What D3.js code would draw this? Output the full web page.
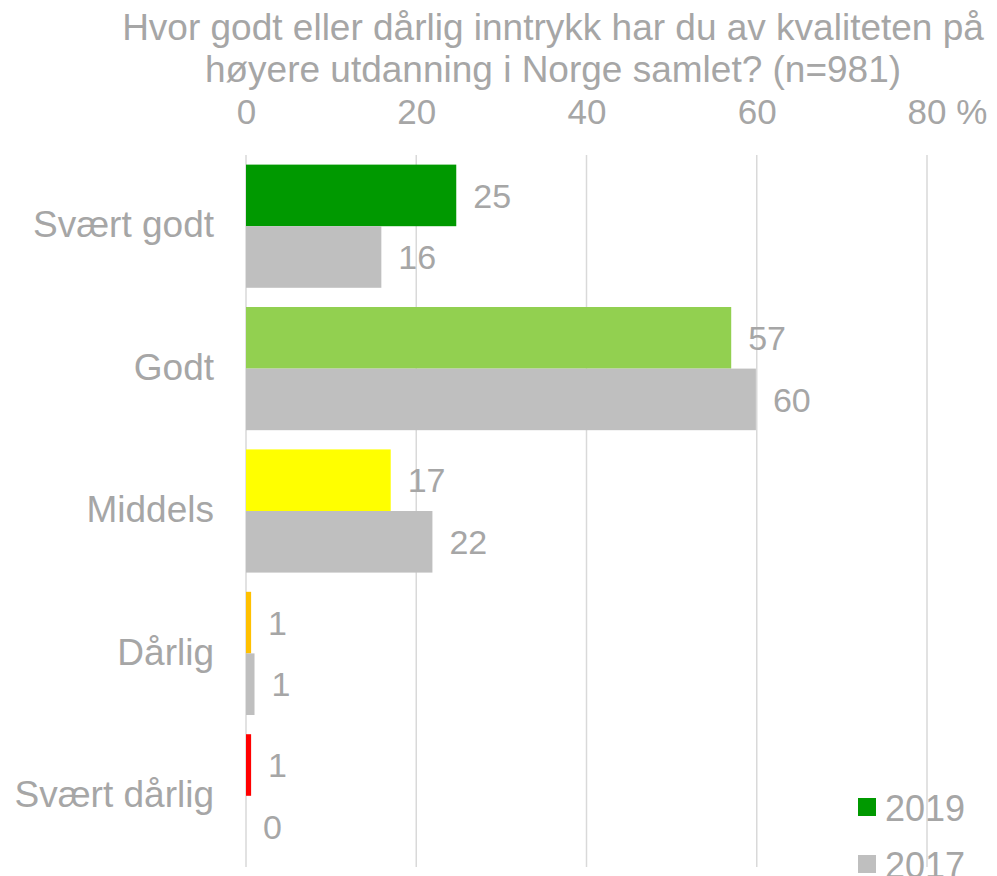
<!DOCTYPE html>
<html><head><meta charset="utf-8">
<script src="https://cdn.jsdelivr.net/npm/d3@7"></script>
<style>body{margin:0;background:#fff}svg{display:block}</style>
</head><body>
<script>
const categories = ["Svært godt","Godt","Middels","Dårlig","Svært dårlig"];
const values2019 = [24.7, 57.0, 17.0, 0.6, 0.6];
const values2017 = [15.9, 59.9, 21.9, 1.0, 0.0];
const labels2019 = ["25","57","17","1","1"];
const labels2017 = ["16","60","22","1","0"];
const colors2019 = ["#009900","#92D050","#FFFF00","#FFC000","#FF0000"];
const color2017 = "#BFBFBF";
const ticks = [0,20,40,60,80];
const series = ["2019","2017"];
const title = ["Hvor godt eller dårlig inntrykk har du av kvaliteten på","høyere utdanning i Norge samlet? (n=981)"];

const W=997,H=876;
const svg=d3.select("body").append("svg").attr("width",W).attr("height",H);
const font="Liberation Sans, Arial, sans-serif";
const txt="#A6A6A6";
const x=d3.scaleLinear().domain([0,80]).range([246,927]);
const y=d3.scaleBand().domain(categories).range([155,867]).paddingInner(0.135).paddingOuter(0.0675);
const sub=d3.scaleBand().domain(series).range([0,y.bandwidth()]);

svg.selectAll("text.title").data(title).enter().append("text")
 .attr("x",553).attr("y",(d,i)=>40+i*42).attr("text-anchor","middle")
 .attr("font-family",font).attr("font-size",37).attr("fill",txt).text(d=>d);

// grid
svg.selectAll("line.grid").data(ticks).enter().append("line")
 .attr("x1",d=>x(d)).attr("x2",d=>x(d)).attr("y1",155).attr("y2",867)
 .attr("stroke","#D9D9D9").attr("stroke-width",1.5);

const ax=svg.append("g").attr("transform","translate(0,124)")
 .call(d3.axisTop(x).tickValues(ticks).tickSize(0).tickFormat(d=>d===80?"80 %":d));
ax.select(".domain").remove();
ax.selectAll("text").attr("font-family",font).attr("font-size",35).attr("fill",txt).attr("dy",0).attr("y",0);
ax.selectAll(".tick").filter(d=>d===80).select("text").attr("text-anchor","start").attr("x",-20);

// category labels
svg.selectAll("text.cat").data(categories).enter().append("text")
 .attr("x",214).attr("y",d=>y(d)+y.bandwidth()/2).attr("dy","0.3em").attr("text-anchor","end")
 .attr("font-family",font).attr("font-size",37).attr("fill",txt).text(d=>d);

const g=svg.append("g");
categories.forEach((c,i)=>{
  const rows=[{s:"2019",v:values2019[i],l:labels2019[i],col:colors2019[i]},{s:"2017",v:values2017[i],l:labels2017[i],col:color2017}];
  rows.forEach(r=>{
    const yy=y(c)+sub(r.s);
    g.append("rect").attr("x",x(0)).attr("y",yy).attr("width",x(r.v)-x(0)).attr("height",sub.bandwidth()).attr("fill",r.col);
    g.append("text").attr("x",x(r.v)+17).attr("y",yy+sub.bandwidth()/2).attr("dy","0.36em")
     .attr("font-family",font).attr("font-size",34).attr("fill",txt).text(r.l);
  });
});

// legend
const leg=svg.append("g");
series.forEach((s,i)=>{
  leg.append("rect").attr("x",858).attr("y",798+i*57).attr("width",18).attr("height",18).attr("fill",i===0?colors2019[0]:color2017);
  leg.append("text").attr("x",885).attr("y",821+i*57).attr("font-family",font).attr("font-size",36).attr("fill",txt).text(s);
});
</script>
</body></html>
